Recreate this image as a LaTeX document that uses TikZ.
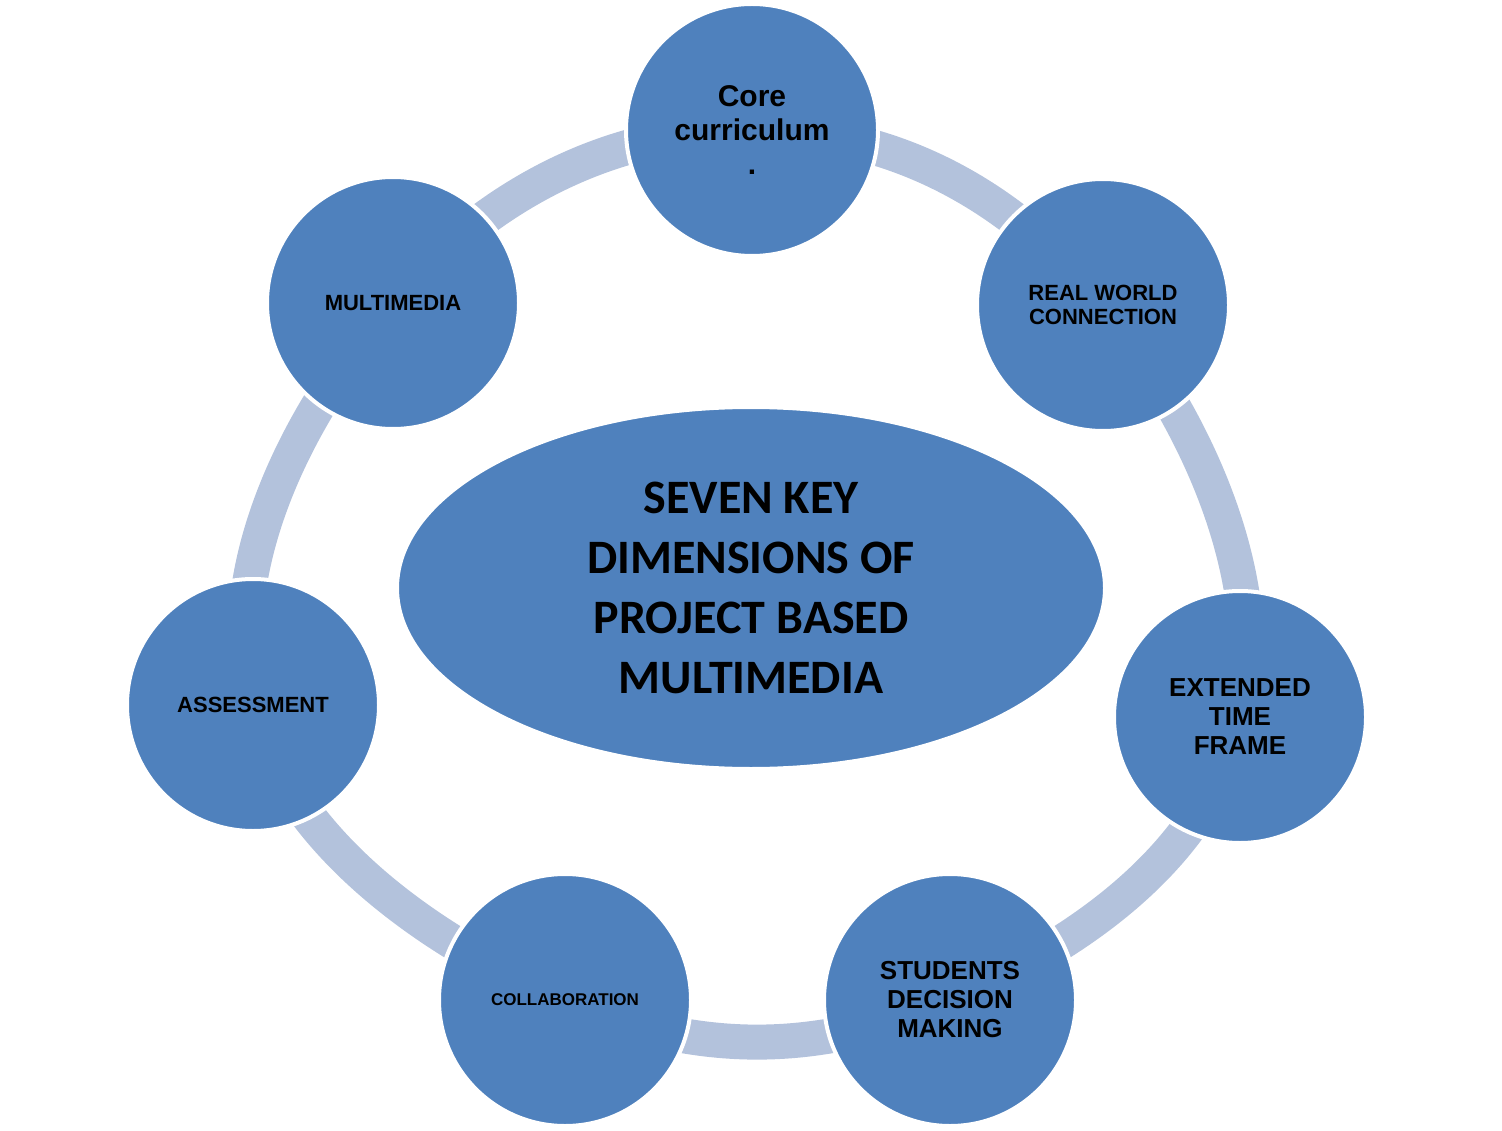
\documentclass[tikz,border=0pt]{standalone}
\usepackage{fontspec}
\setmainfont{Liberation Sans}
\newfontfamily\carl{Carlito}
\usetikzlibrary{shapes.geometric}
\definecolor{blu}{HTML}{4F81BD}
\definecolor{ring}{HTML}{B3C2DC}
\begin{document}
\begin{tikzpicture}[x=1pt,y=-1pt,
  dim/.style={circle,fill=blu,draw=white,line width=4pt,minimum size=252pt,inner sep=0pt,align=center,font=\bfseries\fontsize{22}{24}\selectfont}]
\useasboundingbox (0,0) rectangle (1502,1131);
\draw[ring,line width=35pt] plot[smooth cycle,tension=0.7] coordinates {(752,130)(1103,305)(1240,717)(950,1000)(565,1000)(253,705)(393,303)};
\node[dim,font=\bfseries\fontsize{30}{34}\selectfont] (core) at (752,130) {Core\\curriculum\\.};
\node[dim] (real) at (1103,305) {REAL WORLD\\CONNECTION};
\node[dim,font=\bfseries\fontsize{26}{29}\selectfont] (ext) at (1240,717) {EXTENDED\\TIME\\FRAME};
\node[dim,font=\bfseries\fontsize{26}{29}\selectfont] (stu) at (950,1000) {STUDENTS\\DECISION\\MAKING};
\node[dim,font=\bfseries\fontsize{17}{20}\selectfont] (col) at (565,1000) {COLLABORATION};
\node[dim] (ass) at (253,705) {ASSESSMENT};
\node[dim] (mul) at (393,303) {MULTIMEDIA};
\node[ellipse,fill=blu,draw=white,line width=4pt,minimum width=708pt,minimum height=362pt,align=center,font=\carl\bfseries\fontsize{48}{60}\selectfont] (c) at (751,588) {SEVEN KEY\\DIMENSIONS OF\\PROJECT BASED\\MULTIMEDIA};
\end{tikzpicture}
\end{document}
